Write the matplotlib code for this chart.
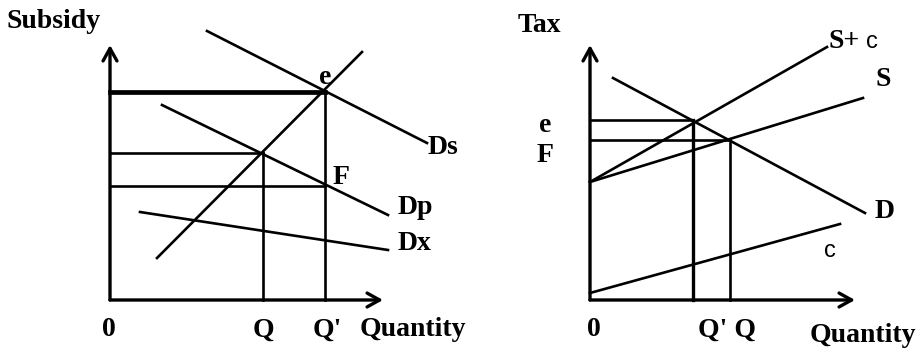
import matplotlib
matplotlib.use("Agg")
import matplotlib.pyplot as plt

plt.rcParams['font.family'] = ['Liberation Serif', 'DejaVu Serif']
plt.rcParams['font.weight'] = 'bold'

# ---------------- Left panel (Subsidy) : curve endpoints (quantity, price) ----------------
ds_q = [97, 317];  ds_p = [269, 157]      # Ds
sup_q = [47, 252]; sup_p = [42, 248]      # supply
dp_q = [52, 278];  dp_p = [195, 85]       # Dp
dx_q = [30, 278];  dx_p = [88, 50]        # Dx
left_q = [153, 215]                       # Q, Q'
left_levels = [208, 147, 114]             # e price, Q price, F price
left_axis_len = [273, 255]                # x axis, y axis length

# ---------------- Right panel (Tax) ----------------
d_q = [23, 275];   d_p = [222, 87]        # D
sc_q = [0, 237];   sc_p = [118, 253]      # S + c
s_q = [0, 273];    s_p = [118, 202]       # S
c_q = [0, 250];    c_p = [7, 76]          # c
right_q = [103, 140]                      # Q', Q
right_levels = [180, 160]                 # e, F
right_axis_len = [265, 255]

W, H = 922, 353
fig = plt.figure(figsize=(W / 100, H / 100), dpi=100)
axL = fig.add_axes([0, 0, 0.5, 1])
axR = fig.add_axes([0.5, 0, 0.5, 1])
axL.set_xlim(-110, 351); axL.set_ylim(-53, 300)
axR.set_xlim(-129, 332); axR.set_ylim(-53, 300)
for ax in (axL, axR):
    ax.axis('off')

K = 'black'
LW = 1.9
FS = 20


def axes_arrows(ax, lens):
    style = '->,head_length=0.9,head_width=0.5'
    ax.annotate('', xy=(lens[0], 0), xytext=(0, 0),
                arrowprops=dict(arrowstyle=style, lw=2.4, color=K, shrinkA=0, shrinkB=0))
    ax.annotate('', xy=(0, lens[1]), xytext=(0, 0),
                arrowprops=dict(arrowstyle=style, lw=2.4, color=K, shrinkA=0, shrinkB=0))


# Left panel
axes_arrows(axL, left_axis_len)
axL.plot(ds_q, ds_p, color=K, lw=LW)
axL.plot(sup_q, sup_p, color=K, lw=LW)
axL.plot(dp_q, dp_p, color=K, lw=LW)
axL.plot(dx_q, dx_p, color=K, lw=LW)
axL.plot([0, left_q[1]], [left_levels[0]] * 2, color=K, lw=3.4)
axL.plot([0, left_q[0]], [left_levels[1]] * 2, color=K, lw=LW)
axL.plot([0, left_q[1]], [left_levels[2]] * 2, color=K, lw=LW)
axL.plot([left_q[0]] * 2, [0, left_levels[1]], color=K, lw=LW)
axL.plot([left_q[1]] * 2, [0, left_levels[0]], color=K, lw=LW)

axL.text(-103, 278, 'Subsidy', fontsize=FS, ha='left', va='center')
axL.text(215, 222, 'e', fontsize=FS, ha='center', va='center')
axL.text(318, 152, 'Ds', fontsize=FS, ha='left', va='center')
axL.text(223, 122, 'F', fontsize=FS, ha='left', va='center')
axL.text(288, 92, 'Dp', fontsize=FS, ha='left', va='center')
axL.text(288, 56, 'Dx', fontsize=FS, ha='left', va='center')
axL.text(-1, -30, '0', fontsize=FS, ha='center', va='center')
axL.text(left_q[0], -30, 'Q', fontsize=FS, ha='center', va='center')
axL.text(203, -30, "Q'", fontsize=FS, ha='left', va='center')
axL.text(250, -30, 'Quantity', fontsize=FS, ha='left', va='center')

# Right panel
axes_arrows(axR, right_axis_len)
axR.plot(d_q, d_p, color=K, lw=LW)
axR.plot(sc_q, sc_p, color=K, lw=LW)
axR.plot(s_q, s_p, color=K, lw=LW)
axR.plot(c_q, c_p, color=K, lw=LW)
axR.plot([0, right_q[0]], [right_levels[0]] * 2, color=K, lw=LW)
axR.plot([0, right_q[1]], [right_levels[1]] * 2, color=K, lw=LW)
axR.plot([right_q[0]] * 2, [0, right_levels[0]], color=K, lw=2.4)
axR.plot([right_q[1]] * 2, [0, right_levels[1]], color=K, lw=LW)

axR.text(-72, 275, 'Tax', fontsize=FS, ha='left', va='center')
axR.text(238, 258, 'S+', fontsize=FS, ha='left', va='center')
axR.text(276, 258, 'c', fontsize=FS - 3, ha='left', va='center', family='Liberation Sans',
         weight='normal')
axR.text(285, 221, 'S', fontsize=FS, ha='left', va='center')
axR.text(-45, 175, 'e', fontsize=FS, ha='center', va='center')
axR.text(-45, 144, 'F', fontsize=FS, ha='center', va='center')
axR.text(285, 89, 'D', fontsize=FS, ha='left', va='center')
axR.text(240, 49, 'c', fontsize=FS - 3, ha='center', va='center', family='Liberation Sans',
         weight='normal')
axR.text(4, -30, '0', fontsize=FS, ha='center', va='center')
axR.text(137, -30, "Q' Q", fontsize=FS, ha='center', va='center')
axR.text(273, -35, 'Quantity', fontsize=FS, ha='center', va='center')

fig.savefig('out.png', dpi=100)
